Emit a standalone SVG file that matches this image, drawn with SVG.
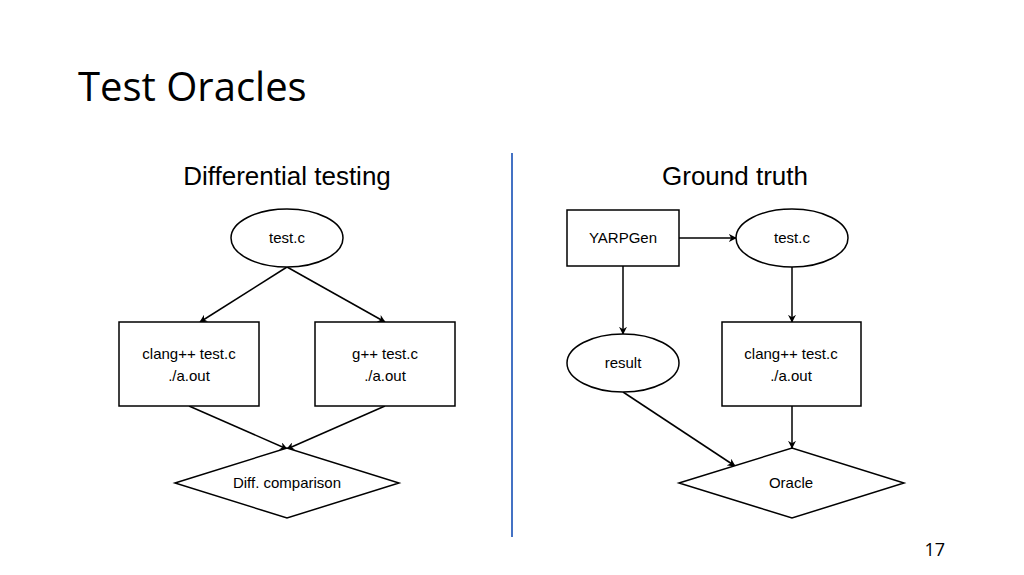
<svg xmlns="http://www.w3.org/2000/svg" width="1024" height="575" viewBox="0 0 1024 575">
<style>
.s{fill:#fff;stroke:#000;stroke-width:1.5}
.t{font-family:"Liberation Sans",Arial,sans-serif;font-size:15px;text-anchor:middle;fill:#000}
.h{font-family:"Liberation Sans",Arial,sans-serif;font-size:26px;text-anchor:middle;fill:#000}
.c{stroke:#000;stroke-width:1.5;fill:none;marker-end:url(#a)}
</style>
<defs><marker id="a" viewBox="0 0 10 10" refX="9" refY="5" markerWidth="8" markerHeight="8" orient="auto" markerUnits="userSpaceOnUse"><path d="M0,0L10,5L0,10L3,5z" fill="#000"/></marker></defs>
<rect width="1024" height="575" fill="#fff"/>
<text x="78" y="101" font-family="'Open Sans','Noto Sans',sans-serif" font-size="40" fill="#000">Test Oracles</text>
<text class="h" x="287" y="185">Differential testing</text>
<text class="h" x="735" y="185">Ground truth</text>
<line x1="512" y1="153" x2="512" y2="537" stroke="#4472C4" stroke-width="2"/>
<g id="connectors">
<path class="c" d="M287,267L200,322"/>
<path class="c" d="M287,267L385,322"/>
<path class="c" d="M189,406L287,449"/>
<path class="c" d="M385,406L287,449"/>
<path class="c" d="M679,238L736,238"/>
<path class="c" d="M623,266L623,334"/>
<path class="c" d="M792,267L792,322"/>
<path class="c" d="M623,392L735,466"/>
<path class="c" d="M792,406L792,448"/>
</g>
<g id="testc1"><ellipse class="s" cx="287" cy="238" rx="56" ry="29"/><text class="t" x="287" y="243">test.c</text></g>
<g id="clang1"><rect class="s" x="119" y="322" width="140" height="84"/><text class="t" x="189" y="359">clang++ test.c</text><text class="t" x="189" y="381">./a.out</text></g>
<g id="gpp"><rect class="s" x="315" y="322" width="140" height="84"/><text class="t" x="385" y="359">g++ test.c</text><text class="t" x="385" y="381">./a.out</text></g>
<g id="diff"><path class="s" d="M175,483L287,448L399,483L287,518z"/><text class="t" x="287" y="488">Diff. comparison</text></g>
<g id="yarpgen"><rect class="s" x="567" y="210" width="112" height="56"/><text class="t" x="623" y="243">YARPGen</text></g>
<g id="testc2"><ellipse class="s" cx="792" cy="238" rx="56" ry="29"/><text class="t" x="792" y="243">test.c</text></g>
<g id="result"><ellipse class="s" cx="623" cy="363" rx="56" ry="29"/><text class="t" x="623" y="368">result</text></g>
<g id="clang2"><rect class="s" x="722" y="322" width="139" height="84"/><text class="t" x="791" y="359">clang++ test.c</text><text class="t" x="791" y="381">./a.out</text></g>
<g id="oracle"><path class="s" d="M679,483L792,448L904,483L792,518z"/><text class="t" x="791" y="488">Oracle</text></g>
<text x="945" y="556" font-family="'Open Sans','Noto Sans',sans-serif" font-size="18" text-anchor="end" fill="#000">17</text>
</svg>
